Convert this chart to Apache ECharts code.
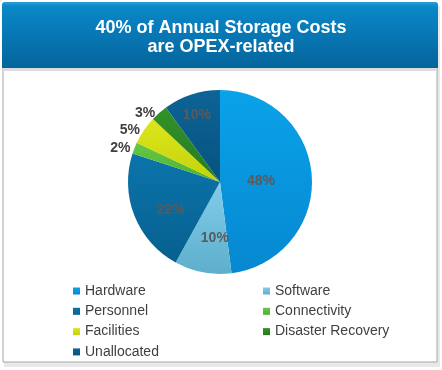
<!DOCTYPE html>
<html>
<head>
<meta charset="utf-8">
<script src="https://cdn.jsdelivr.net/npm/echarts@6/dist/echarts.min.js"></script>
<style>
html,body{margin:0;padding:0;background:#fff;}
#c{width:442px;height:370px;}
</style>
</head>
<body>
<div id="c"></div>
<script>
const categories = ['Hardware','Software','Personnel','Connectivity','Facilities','Disaster Recovery','Unallocated'];
const values = [48, 10, 22, 2, 5, 3, 10];
const colors = [
  ['#0aa2ea','#0688d0'],
  ['#80cdea','#5eafcc'],
  ['#0c74ab','#06608f'],
  ['#66c845','#4fb030'],
  ['#dde61c','#c4d20a'],
  ['#33922a','#267a1d'],
  ['#0d6496','#07527e']
];
const insideLabels = [true, true, true, false, false, false, true];
const leftLegend = ['Hardware','Personnel','Facilities','Unallocated'];
const rightLegend = ['Software','Connectivity','Disaster Recovery'];
const titleLines = ['40% of Annual Storage Costs','are OPEX-related'];

// label nudges: horizontal padding [left,right], vertical shift (negative = up)
const labelHPad = [[0,16],[8,0],[0,8],[0,0],[0,0],[0,0],[0,16]];
const labelVShift = [2, 8, 10, 0, 0, 0, -20];

const chart = echarts.init(document.getElementById('c'), null, {renderer:'canvas'});

function grad(c){
  return new echarts.graphic.LinearGradient(0,0,0,1,[{offset:0,color:c[0]},{offset:1,color:c[1]}]);
}

function fmt(shift){
  if (shift < 0) return '{c}%\n';
  if (shift > 0) return '\n{c}%';
  return '{c}%';
}

const data = categories.map((n,i)=>{
  const s = labelVShift[i];
  const base = {
    fontSize:14, fontWeight:'bold',
    formatter: fmt(s),
    lineHeight: Math.abs(s) * 2 || 16,
    padding:[0, labelHPad[i][1], 0, labelHPad[i][0]]
  };
  return {
    name:n,
    value:values[i],
    itemStyle:{color:grad(colors[i])},
    label: insideLabels[i]
      ? Object.assign({position:'inside', color:'#5a5a5a'}, base)
      : Object.assign({position:'outside', color:'#404040', distanceToLabelLine:4}, base),
    labelLine:{show:false, length:0, length2:0}
  };
});

const legendCommon = {
  orient:'vertical',
  icon:'rect',
  itemWidth:7,
  itemHeight:7,
  itemGap:6.3,
  padding:0,
  height:120,
  textStyle:{fontFamily:'Liberation Sans, Arial, sans-serif', fontSize:14, color:'#404040', lineHeight:14},
  selectedMode:false
};

chart.setOption({
  animation:false,
  color: colors.map(c=>c[0]),
  graphic:[
    {type:'rect', shape:{x:4,y:6,width:436,height:361}, style:{fill:'#e8e8e8'}, z:-10},
    {type:'rect', shape:{x:3,y:3,width:434,height:359}, style:{fill:'#fff', stroke:'#a6a6a6', lineWidth:1}, z:-9},
    {type:'rect', shape:{x:3,y:68,width:434,height:3}, style:{fill:'#dcdcdc'}, z:-8},
    {type:'rect', shape:{x:2,y:2,width:436,height:66, r:[3,3,0,0]},
      style:{fill:new echarts.graphic.LinearGradient(0,0,0,1,[
        {offset:0,color:'#2aa0dc'},{offset:0.06,color:'#0a88c8'},{offset:1,color:'#05649c'}
      ])}, z:-7}
  ],
  title:{
    text: titleLines.join('\n'),
    left:'center',
    top:14,
    textStyle:{color:'#fff', fontFamily:'Liberation Sans, Arial, sans-serif', fontSize:18, fontWeight:'bold', lineHeight:19}
  },
  legend:[
    Object.assign({left:73, top:284, data:leftLegend}, legendCommon),
    Object.assign({left:263, top:284, data:rightLegend}, legendCommon)
  ],
  series:[{
    type:'pie',
    center:[220,182],
    radius:[0,92],
    startAngle:90,
    clockwise:true,
    avoidLabelOverlap:false,
    label:{fontFamily:'Liberation Sans, Arial, sans-serif'},
    emphasis:{disabled:true},
    data:data
  }]
});
</script>
</body>
</html>
